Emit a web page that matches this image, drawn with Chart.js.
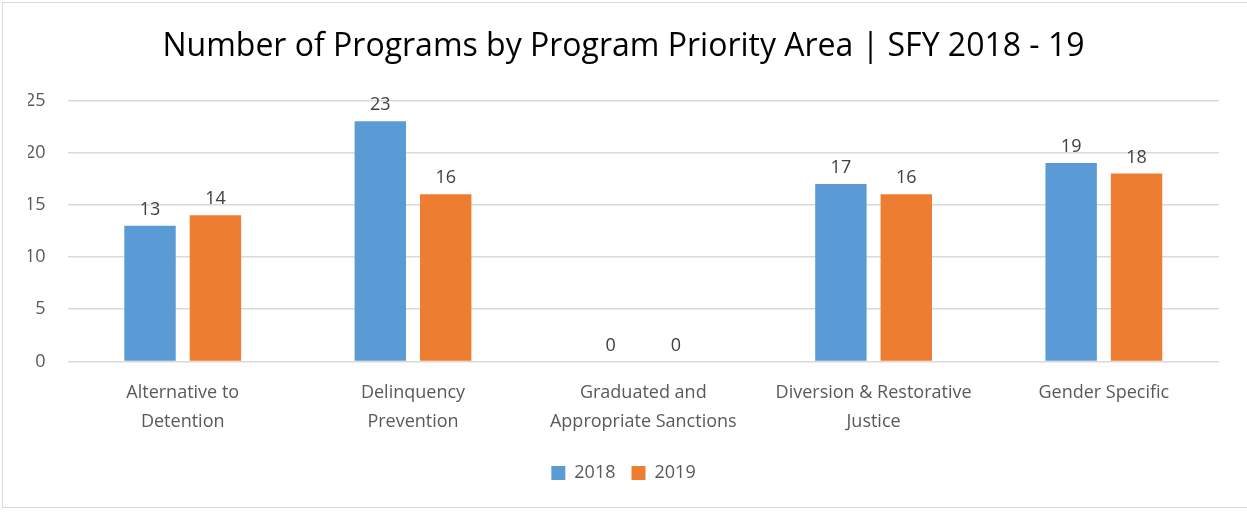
<!DOCTYPE html>
<html>
<head>
<meta charset="utf-8">
<script src="https://cdn.jsdelivr.net/npm/chart.js@4/dist/chart.umd.min.js"></script>
<style>
  html, body { margin: 0; padding: 0; background: #fff; }
  #wrap {
    position: absolute; left: 2px; top: 2px;
    width: 1250px; height: 506px;
    border: 1px solid #d9d9d9; box-sizing: border-box;
  }
  #box { position: absolute; left: 0; top: 0; width: 1247px; height: 512px; }
</style>
</head>
<body>
<div id="wrap"></div>
<div id="box"><canvas id="programChart"></canvas></div>
<script>
const categories = [
  ["Alternative to", "Detention"],
  ["Delinquency", "Prevention"],
  ["Graduated and", "Appropriate Sanctions"],
  ["Diversion & Restorative", "Justice"],
  "Gender Specific",
];
const values2018 = [13, 23, 0, 17, 19];
const values2019 = [14, 16, 0, 16, 18];
const yTicks = [0, 5, 10, 15, 20, 25];

const fontFam = "'Open Sans', 'Liberation Sans', sans-serif";

// draws the number above each bar
const barLabels = {
  id: "barLabels",
  afterDatasetsDraw(chart) {
    const ctx = chart.ctx;
    ctx.save();
    ctx.font = "18px " + fontFam;
    ctx.fillStyle = "#404040";
    ctx.textAlign = "center";
    ctx.textBaseline = "bottom";
    chart.data.datasets.forEach((ds, i) => {
      chart.getDatasetMeta(i).data.forEach((bar, j) => {
        ctx.fillText(ds.data[j], bar.x, bar.y - 7);
      });
    });
    ctx.restore();
  },
};

new Chart(document.getElementById("programChart"), {
  type: "bar",
  data: {
    labels: categories,
    datasets: [
      {
        label: "2018",
        data: values2018,
        backgroundColor: "#5b9bd5",
        categoryPercentage: 0.568,
        barPercentage: 0.786,
      },
      {
        label: "2019",
        data: values2019,
        backgroundColor: "#ed7d31",
        categoryPercentage: 0.568,
        barPercentage: 0.786,
      },
    ],
  },
  plugins: [barLabels],
  options: {
    responsive: true,
    maintainAspectRatio: false,
    animation: false,
    layout: { padding: { left: 28, right: 28, top: 18, bottom: 20 } },
    plugins: {
      title: {
        display: true,
        text: "Number of Programs by Program Priority Area | SFY 2018 - 19",
        color: "#000",
        font: { family: fontFam, size: 32, weight: "normal" },
        padding: { top: 10, bottom: 34 },
      },
      legend: {
        position: "bottom",
        labels: {
          color: "#595959",
          font: { family: fontFam, size: 18 },
          boxWidth: 14,
          boxHeight: 14,
          padding: 16,
        },
      },
      tooltip: { enabled: false },
    },
    scales: {
      y: {
        min: 0,
        max: 25,
        afterBuildTicks: (axis) => {
          axis.ticks = yTicks.map((v) => ({ value: v }));
        },
        afterFit: (axis) => {
          axis.width -= 25;
        },
        grid: { color: "#d9d9d9", lineWidth: 1.5, drawTicks: false },
        border: { display: false },
        ticks: {
          color: "#595959",
          font: { family: fontFam, size: 18 },
          padding: 22,
        },
      },
      x: {
        afterFit: (axis) => {
          axis.height += 3;
        },
        grid: { display: false },
        border: { display: false },
        ticks: {
          color: "#595959",
          font: { family: fontFam, size: 18, lineHeight: 1.6 },
          padding: 9,
          maxRotation: 0,
          autoSkip: false,
        },
      },
    },
  },
});
</script>
</body>
</html>
